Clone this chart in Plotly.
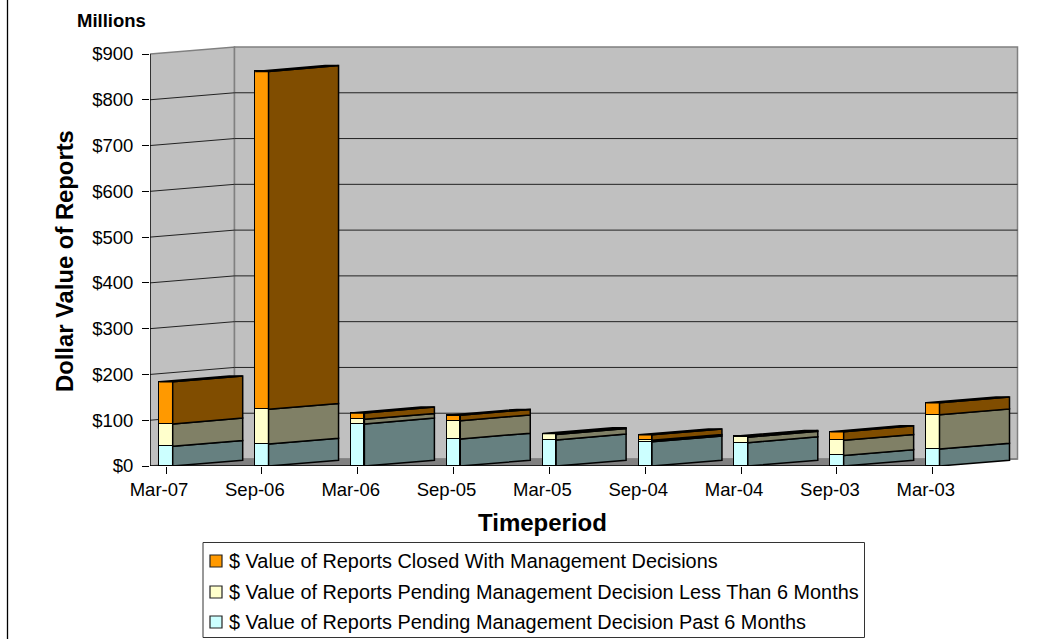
import plotly.graph_objects as go

categories = ["Mar-07", "Sep-06", "Mar-06", "Sep-05", "Mar-05", "Sep-04", "Mar-04", "Sep-03", "Mar-03"]
past_6_months = [43, 48, 92, 59, 57, 53, 51, 23, 37]
less_than_6_months = [49, 76, 10, 40, 12, 3, 12, 33, 75]
closed = [92, 738, 14, 12, 2, 12, 2, 19, 26]
y_ticks = [0, 100, 200, 300, 400, 500, 600, 700, 800, 900]
y_tick_labels = ["$0", "$100", "$200", "$300", "$400", "$500", "$600", "$700", "$800", "$900"]
series_names = [
    "$ Value of Reports Closed With Management Decisions",
    "$ Value of Reports Pending Management Decision Less Than 6 Months",
    "$ Value of Reports Pending Management Decision Past 6 Months",
]

FONT = "Liberation Sans"
W, H = 1047, 639
PL, PR, PT, PB = 150, 1020, 44, 466
PX_X = 95.85
PX_Y = 412 / 900
X_LEFT = (PL - 166) / PX_X
X_RIGHT = (PR - 166) / PX_X
X_WALL_END = (1017.5 - 166) / PX_X
Y_TOP = (PB - PT) / PX_Y
WALL_DX, WALL_DY = 84.5 / PX_X, 7 / PX_Y
BAR_DX, BAR_DY = 70 / PX_X, 5.8 / PX_Y
BAR_W = 13.4 / PX_X
LW = 1.5

fig = go.Figure()


def side_trace(bottoms, tops, color, name):
    xs, ys = [], []
    for i, (b, t) in enumerate(zip(bottoms, tops)):
        r = i + BAR_W / 2
        xs += [r, r + BAR_DX, r + BAR_DX, r, r, None]
        ys += [b, b + BAR_DY, t + BAR_DY, t, b, None]
    fig.add_trace(go.Scatter(x=xs, y=ys, mode="lines", fill="toself", fillcolor=color,
                             line=dict(color="black", width=LW), name=name,
                             showlegend=False, hoverinfo="skip"))


s1 = past_6_months
s2 = [a + b for a, b in zip(s1, less_than_6_months)]
s3 = [a + b for a, b in zip(s2, closed)]
zero = [0] * len(categories)

colors = ["#FF9900", "#FFFFCC", "#CCFFFF"]
side_colors = ["#804D00", "#808066", "#668080"]

for vals, col, name in [(past_6_months, colors[2], series_names[2]),
                        (less_than_6_months, colors[1], series_names[1]),
                        (closed, colors[0], series_names[0])]:
    fig.add_trace(go.Bar(x=list(range(len(categories))), y=vals, width=BAR_W, name=name,
                         marker=dict(color=col, line=dict(color="black", width=LW)),
                         showlegend=False))

side_trace(zero, s1, side_colors[2], "past side")
side_trace(s1, s2, side_colors[1], "less side")
side_trace(s2, s3, side_colors[0], "closed side")

# top faces
xs, ys = [], []
for i, t in enumerate(s3):
    l, r = i - BAR_W / 2, i + BAR_W / 2
    xs += [l, l + BAR_DX, r + BAR_DX, r, l, None]
    ys += [t, t + BAR_DY, t + BAR_DY, t, t, None]
fig.add_trace(go.Scatter(x=xs, y=ys, mode="lines", fill="toself", fillcolor=side_colors[0],
                         line=dict(color="black", width=LW), showlegend=False, hoverinfo="skip"))

shapes = []


def poly(pts, fill, lc, lw, layer="below"):
    path = "M " + " L ".join(f"{x},{y}" for x, y in pts) + " Z"
    shapes.append(dict(type="path", path=path, xref="x", yref="y", fillcolor=fill,
                       line=dict(color=lc, width=lw), layer=layer))


TOP = y_ticks[-1]
poly([(X_LEFT, 0), (X_LEFT + WALL_DX, WALL_DY), (X_LEFT + WALL_DX, TOP + WALL_DY), (X_LEFT, TOP)],
     "#C0C0C0", "#808080", 1.5)
poly([(X_LEFT + WALL_DX, WALL_DY), (X_WALL_END, WALL_DY), (X_WALL_END, TOP + WALL_DY), (X_LEFT + WALL_DX, TOP + WALL_DY)],
     "#C0C0C0", "#808080", 1.5)
poly([(X_LEFT, 0), (X_LEFT + WALL_DX, WALL_DY), (X_WALL_END, WALL_DY), (X_WALL_END - WALL_DX, 0)],
     "#808080", "#808080", 1)

for v in y_ticks[1:-1]:
    shapes.append(dict(type="path", xref="x", yref="y", layer="below",
                       path=f"M {X_LEFT},{v} L {X_LEFT + WALL_DX},{v + WALL_DY} L {X_WALL_END},{v + WALL_DY}",
                       line=dict(color="#222222", width=1)))

# axis lines
shapes.append(dict(type="line", xref="x", yref="y", x0=X_LEFT, x1=X_LEFT, y0=0, y1=TOP,
                   line=dict(color="black", width=1.3), layer="above"))
shapes.append(dict(type="line", xref="x", yref="y", x0=X_LEFT, x1=X_WALL_END - WALL_DX, y0=0, y1=0,
                   line=dict(color="black", width=1.3), layer="above"))


def px(x):
    return (x - PL) / (PR - PL)


def py(y):
    return (PB - y) / (PB - PT)


# left frame of the picture
shapes.append(dict(type="line", xref="paper", yref="paper", x0=px(7.5), x1=px(7.5), y0=py(H), y1=py(0),
                   line=dict(color="black", width=1.3), layer="above"))

annotations = [
    dict(text="<b>Millions</b>", xref="paper", yref="paper", x=px(75), y=py(20),
         xanchor="left", yanchor="middle", showarrow=False, font=dict(family=FONT, size=18.5, color="black")),
    dict(text="<b>Timeperiod</b>", xref="paper", yref="paper", x=px(542), y=py(522),
         xanchor="center", yanchor="middle", showarrow=False, font=dict(family=FONT, size=24, color="black")),
    dict(text="<b>Dollar Value of Reports</b>", xref="paper", yref="paper", x=px(64), y=py(261), textangle=-90,
         xanchor="center", yanchor="middle", showarrow=False, font=dict(family=FONT, size=23.8, color="black")),
]

# legend box
shapes.append(dict(type="rect", xref="paper", yref="paper", x0=px(203), x1=px(864.5), y0=py(637.5), y1=py(542.5),
                   fillcolor="white", line=dict(color="#333333", width=1), layer="above"))
for name, col, yc in zip(series_names, colors, [561, 592, 622]):
    shapes.append(dict(type="rect", xref="paper", yref="paper", x0=px(210), x1=px(222), y0=py(yc + 6), y1=py(yc - 6),
                       fillcolor=col, line=dict(color="#222222", width=1.2), layer="above"))
    annotations.append(dict(text=name, xref="paper", yref="paper", x=px(227), y=py(yc), xanchor="left",
                            yanchor="middle", showarrow=False, font=dict(family=FONT, size=19.87, color="black")))

fig.update_layout(
    width=W, height=H, margin=dict(l=PL, r=W - PR, t=PT, b=H - PB, pad=0),
    paper_bgcolor="white", plot_bgcolor="white", barmode="stack", bargap=0,
    font=dict(family=FONT, size=18.5, color="black"), showlegend=False,
    shapes=shapes, annotations=annotations,
    xaxis=dict(range=[X_LEFT, X_RIGHT], tickmode="array", tickvals=list(range(len(categories))),
               ticktext=categories, ticks="outside", ticklen=7, tickcolor="black", tickwidth=1.2,
               showgrid=False, zeroline=False, showline=False, ticklabelshift=-7),
    yaxis=dict(range=[0, Y_TOP], tickmode="array", tickvals=y_ticks, ticktext=y_tick_labels,
               ticks="outside", ticklen=7, tickcolor="black", tickwidth=1.2, ticklabelstandoff=5,
               showgrid=False, zeroline=False, showline=False),
)

fig.write_html("out.html", post_script="document.body.style.margin='0';document.body.style.overflow='hidden';",
               config=dict(displayModeBar=False))
